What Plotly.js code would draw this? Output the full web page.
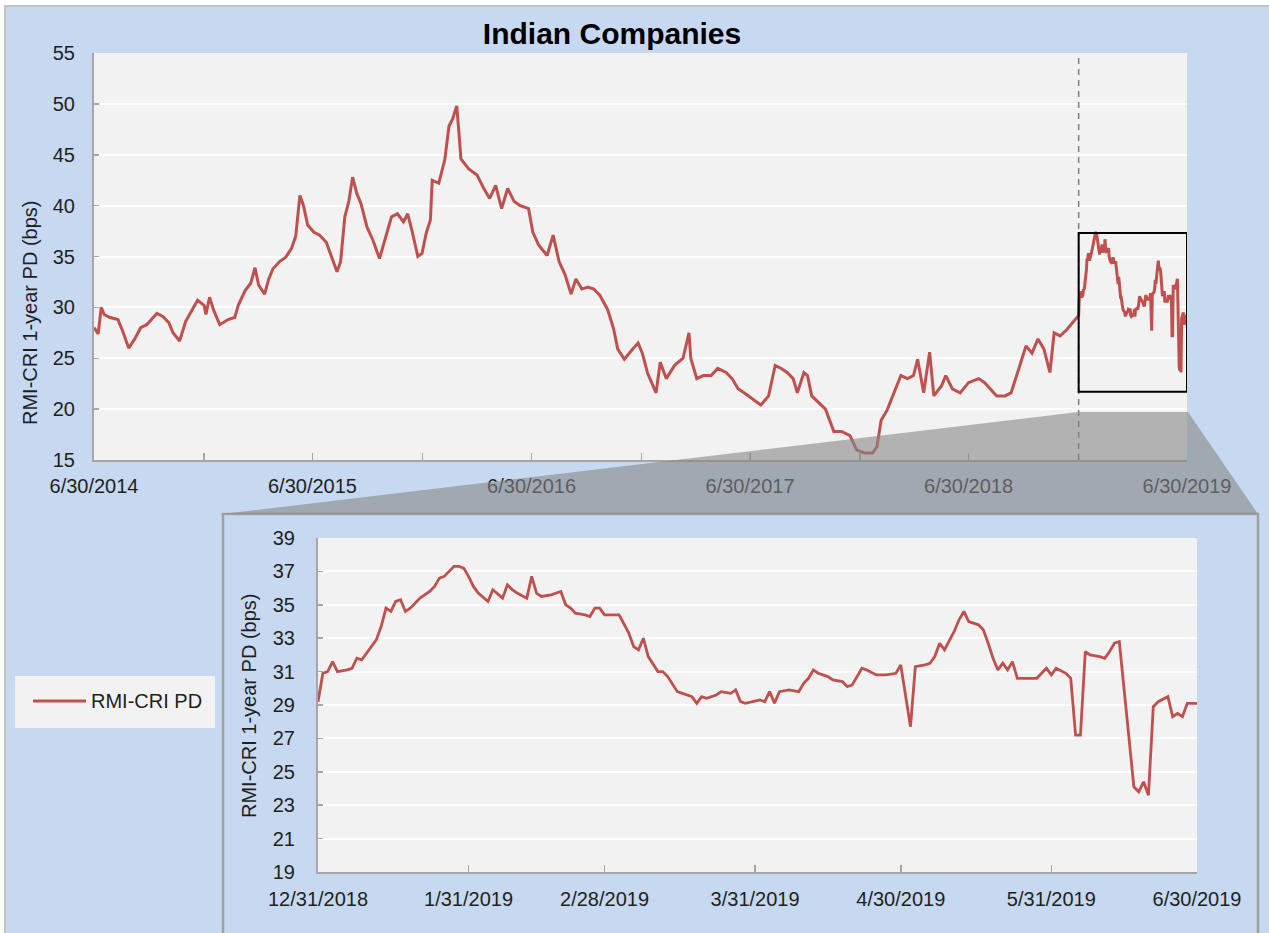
<!DOCTYPE html>
<html><head><meta charset="utf-8">
<script src="https://cdn.plot.ly/plotly-3.0.1.min.js"></script>
<style>html,body{margin:0;padding:0;background:#fff;}#chart{width:1269px;height:933px;}</style>
</head><body><div id="chart"></div>
<script>
// ---------------- DATA ----------------
const chartTitle = 'Indian Companies';
const seriesName = 'RMI-CRI PD';
const yAxisTitle = 'RMI-CRI 1-year PD (bps)';

const dates = [
'2014-06-30','2014-07-07','2014-07-12','2014-07-17','2014-07-27','2014-08-09','2014-08-16','2014-08-27','2014-09-06','2014-09-16',
'2014-09-26','2014-10-13','2014-10-23','2014-11-02','2014-11-09','2014-11-20','2014-11-30','2014-12-10','2014-12-20','2014-12-31',
'2015-01-03','2015-01-09','2015-01-16','2015-01-26','2015-02-09','2015-02-20','2015-02-26','2015-03-09','2015-03-19','2015-03-26',
'2015-04-01','2015-04-11','2015-04-18','2015-04-25','2015-05-06','2015-05-16','2015-05-26','2015-06-02','2015-06-09','2015-06-15',
'2015-06-22','2015-07-02','2015-07-12','2015-07-23','2015-08-03','2015-08-10','2015-08-16','2015-08-23','2015-08-30','2015-09-05',
'2015-09-12','2015-09-19','2015-09-29','2015-10-09','2015-10-20','2015-10-30','2015-11-09','2015-11-19','2015-11-29','2015-12-06',
'2015-12-13','2015-12-23','2015-12-30','2016-01-06','2016-01-13','2016-01-16','2016-01-27','2016-02-06','2016-02-13','2016-02-19',
'2016-02-26','2016-03-01','2016-03-04','2016-03-17','2016-03-31','2016-04-11','2016-04-21','2016-05-01','2016-05-11','2016-05-21',
'2016-06-01','2016-06-11','2016-06-25','2016-07-02','2016-07-12','2016-07-26','2016-08-05','2016-08-15','2016-08-25','2016-09-04',
'2016-09-12','2016-09-22','2016-10-02','2016-10-12','2016-10-22','2016-11-04','2016-11-14','2016-11-21','2016-12-02','2016-12-16',
'2016-12-25','2017-01-01','2017-01-10','2017-01-24','2017-01-31','2017-02-10','2017-02-24','2017-03-10','2017-03-20','2017-03-23',
'2017-04-02','2017-04-13','2017-04-26','2017-05-07','2017-05-21','2017-05-31','2017-06-10','2017-06-20','2017-07-04','2017-07-18',
'2017-07-31','2017-08-11','2017-08-21','2017-08-31','2017-09-10','2017-09-17','2017-09-28','2017-10-04','2017-10-11','2017-10-21',
'2017-11-03','2017-11-17','2017-11-30','2017-12-14','2017-12-25','2018-01-07','2018-01-21','2018-01-28','2018-02-04','2018-02-14',
'2018-02-27','2018-03-09','2018-03-20','2018-03-30','2018-04-06','2018-04-16','2018-04-26','2018-05-03','2018-05-16','2018-05-23',
'2018-06-03','2018-06-16','2018-06-30','2018-07-17','2018-07-27','2018-08-06','2018-08-16','2018-08-30','2018-09-09','2018-09-20',
'2018-10-04','2018-10-14','2018-10-24','2018-11-03','2018-11-13','2018-11-20','2018-11-30','2018-12-11','2018-12-21',
'2018-12-31','2019-01-01','2019-01-02','2019-01-03','2019-01-04','2019-01-06','2019-01-07','2019-01-08','2019-01-09','2019-01-10',
'2019-01-12','2019-01-13','2019-01-14','2019-01-15','2019-01-16','2019-01-17','2019-01-18','2019-01-19','2019-01-20','2019-01-21',
'2019-01-23','2019-01-24','2019-01-25','2019-01-26','2019-01-27','2019-01-28','2019-01-29','2019-01-30','2019-01-31','2019-02-01',
'2019-02-02','2019-02-04','2019-02-05','2019-02-07','2019-02-08','2019-02-09','2019-02-10','2019-02-12','2019-02-13','2019-02-14',
'2019-02-15','2019-02-17','2019-02-19','2019-02-20','2019-02-21','2019-02-22','2019-02-24','2019-02-25','2019-02-26','2019-02-27',
'2019-02-28','2019-03-01','2019-03-03','2019-03-05','2019-03-06','2019-03-07','2019-03-08','2019-03-09','2019-03-11','2019-03-12',
'2019-03-13','2019-03-15','2019-03-17','2019-03-18','2019-03-19','2019-03-20','2019-03-21','2019-03-23','2019-03-24','2019-03-26',
'2019-03-27','2019-03-28','2019-03-29','2019-04-01','2019-04-02','2019-04-03','2019-04-04','2019-04-05','2019-04-07','2019-04-09',
'2019-04-10','2019-04-11','2019-04-12','2019-04-13','2019-04-15','2019-04-16','2019-04-18','2019-04-19','2019-04-20','2019-04-22',
'2019-04-23','2019-04-25','2019-04-27','2019-04-29','2019-04-30','2019-05-02','2019-05-03','2019-05-05','2019-05-06','2019-05-07',
'2019-05-08','2019-05-09','2019-05-11','2019-05-12','2019-05-13','2019-05-14','2019-05-16','2019-05-17','2019-05-18','2019-05-19',
'2019-05-20','2019-05-21','2019-05-22','2019-05-23','2019-05-24','2019-05-26','2019-05-28','2019-05-29','2019-05-30','2019-05-31',
'2019-06-01','2019-06-03','2019-06-04','2019-06-05','2019-06-06','2019-06-07','2019-06-08','2019-06-10','2019-06-11','2019-06-12',
'2019-06-13','2019-06-14','2019-06-17','2019-06-18','2019-06-19','2019-06-20','2019-06-21','2019-06-22','2019-06-24','2019-06-25',
'2019-06-26','2019-06-27','2019-06-28','2019-06-30'
];
const pdValues = [
28.0,27.4,30.0,29.3,29.0,28.8,27.8,26.0,26.9,28.0,
28.3,29.4,29.1,28.5,27.5,26.7,28.6,29.7,30.7,30.2,
29.3,31.0,29.7,28.3,28.8,29.0,30.2,31.6,32.4,33.9,
32.2,31.3,32.8,33.8,34.5,34.9,35.8,37.0,41.0,40.0,
38.1,37.4,37.1,36.4,34.5,33.5,34.5,38.9,40.5,42.8,
41.2,40.2,37.9,36.6,34.8,36.9,38.9,39.2,38.4,39.2,
37.6,35.0,35.3,37.3,38.6,42.5,42.2,44.5,47.8,48.5,
49.8,46.9,44.6,43.6,43.0,41.7,40.7,42.0,39.7,41.7,
40.4,40.0,39.7,37.4,36.1,35.1,37.1,34.5,33.2,31.3,
32.8,31.8,32.0,31.8,31.2,29.8,27.9,25.9,24.9,25.9,
26.5,25.5,23.5,21.6,24.6,23.0,24.3,25.0,27.5,25.0,
23.0,23.3,23.3,24.0,23.6,23.0,22.0,21.6,21.0,20.4,
21.3,24.3,24.0,23.6,23.0,21.6,23.6,23.3,21.3,20.7,
20.0,17.8,17.8,17.4,16.0,15.7,15.7,16.3,18.9,19.9,
21.9,23.3,23.0,23.3,24.9,21.6,25.6,21.3,22.3,23.3,
22.0,21.6,22.6,23.0,22.6,22.0,21.3,21.3,21.6,23.6,
26.2,25.5,26.9,25.9,23.6,27.5,27.2,27.8,28.5,
29.2,30.9,31.0,31.6,31.0,31.1,31.2,31.8,31.7,32.1,
32.9,33.7,34.8,34.6,35.2,35.3,34.6,34.8,35.1,35.4,
35.8,36.1,36.6,36.7,37.0,37.3,37.3,37.2,36.7,36.1,
35.7,35.2,35.9,35.4,36.2,35.9,35.7,35.4,36.7,35.7,
35.5,35.6,35.8,35.0,34.8,34.5,34.4,34.3,34.8,34.8,
34.4,34.4,34.4,33.3,32.5,32.3,33.0,31.9,31.0,31.0,
30.7,29.8,29.6,29.5,29.1,29.5,29.4,29.6,29.8,29.7,
29.9,29.2,29.1,29.3,29.2,29.8,29.1,29.8,29.9,29.8,
30.3,30.6,31.1,30.9,30.7,30.5,30.4,30.1,30.2,31.2,
31.1,30.8,30.8,30.9,31.4,27.7,31.3,31.4,31.5,31.9,
32.7,32.3,33.4,34.1,34.6,34.0,33.8,33.5,32.7,31.8,
31.1,31.5,31.1,31.6,30.6,30.6,30.6,30.9,31.2,30.8,
31.2,30.9,30.6,27.2,27.2,32.2,32.0,31.9,31.8,32.2,
32.7,32.8,24.1,23.8,24.4,23.6,28.9,29.2,29.5,28.3,
28.5,28.3,29.1,29.1
];

const mainTickVals = ['2014-06-30','2014-12-31','2015-06-30','2015-12-31','2016-06-30','2016-12-31',
                      '2017-06-30','2017-12-31','2018-06-30','2018-12-31','2019-06-30'];
const mainTickText = ['6/30/2014','','6/30/2015','','6/30/2016','','6/30/2017','','6/30/2018','','6/30/2019'];
const insetTickVals = ['2018-12-31','2019-01-31','2019-02-28','2019-03-31','2019-04-30','2019-05-31','2019-06-30'];
const insetTickText = ['12/31/2018','1/31/2019','2/28/2019','3/31/2019','4/30/2019','5/31/2019','6/30/2019'];
const mainRange = ['2014-06-30','2019-06-30'];
const zoomStart = '2018-12-31', zoomEnd = '2019-06-30';
const zoomLow = 21.7, zoomHigh = 37.3;

// ---------------- LAYOUT ----------------
const W = 1269, H = 933;
const X = p => p / W, Y = p => 1 - p / H;
const FONT = 'Liberation Sans, Arial, sans-serif';
const RED = '#c0504d';
const AXC = '#a6a6a6';
const TXT = '#1f1f1f';

const insetIdx = dates.map((d,i)=>i).filter(i => dates[i] >= zoomStart);

const traces = [
  {x: dates, y: pdValues, type: 'scatter', mode: 'lines', name: seriesName,
   line: {color: RED, width: 3}, xaxis: 'x', yaxis: 'y', showlegend: false, hoverinfo: 'skip'},
  {x: insetIdx.map(i=>dates[i]), y: insetIdx.map(i=>pdValues[i]), type: 'scatter', mode: 'lines', name: seriesName,
   line: {color: RED, width: 2.8}, xaxis: 'x2', yaxis: 'y2', showlegend: false, hoverinfo: 'skip'}
];

const axisCommon = {
  showline: true, linecolor: AXC, linewidth: 2, zeroline: false,
  ticks: 'inside', tickcolor: AXC, tickwidth: 1.5, automargin: false,
  tickfont: {family: FONT, size: 20, color: TXT}, fixedrange: true
};

const layout = {
  width: W, height: H,
  margin: {l: 0, r: 0, t: 0, b: 0, pad: 0},
  paper_bgcolor: '#c6d9f0', plot_bgcolor: '#f2f2f2',
  showlegend: false,
  title: {text: '<b>' + chartTitle + '</b>', font: {family: FONT, size: 30, color: '#000'},
          x: X(612), xanchor: 'center', y: Y(33), yanchor: 'middle', xref: 'paper', yref: 'paper'},
  xaxis: Object.assign({}, axisCommon, {
    type: 'date', domain: [X(94), X(1187)], range: mainRange, anchor: 'y',
    tickmode: 'array', tickvals: mainTickVals, ticktext: mainTickText, ticklen: 7,
    showgrid: false, ticklabelstandoff: 7
  }),
  yaxis: Object.assign({}, axisCommon, {
    domain: [Y(460), Y(53)], range: [15, 55], dtick: 5, tick0: 15, anchor: 'x',
    ticklen: 5, showgrid: true, gridcolor: '#ffffff', gridwidth: 2, ticklabelstandoff: 13
  }),
  xaxis2: Object.assign({}, axisCommon, {
    type: 'date', domain: [X(318), X(1197)], range: [zoomStart, zoomEnd], anchor: 'y2',
    tickmode: 'array', tickvals: insetTickVals, ticktext: insetTickText, ticklen: 7,
    showgrid: false, ticklabelstandoff: 8
  }),
  yaxis2: Object.assign({}, axisCommon, {
    domain: [Y(872), Y(538)], range: [19, 39], dtick: 2, tick0: 19, anchor: 'x2',
    ticklen: 5, showgrid: true, gridcolor: '#ffffff', gridwidth: 2, ticklabelstandoff: 17
  }),
  shapes: [
    {type: 'rect', xref: 'paper', yref: 'paper', x0: 0, x1: 1, y0: Y(5), y1: 1, fillcolor: '#ffffff', line: {width: 0}, layer: 'below'},
    {type: 'rect', xref: 'paper', yref: 'paper', x0: 0, x1: X(4), y0: 0, y1: 1, fillcolor: '#ffffff', line: {width: 0}, layer: 'below'},
    {type: 'rect', xref: 'paper', yref: 'paper', x0: X(5), x1: X(1290), y0: Y(960), y1: Y(6), fillcolor: 'rgba(0,0,0,0)', line: {color: '#c3c3c3', width: 2}, layer: 'below'},
    {type: 'rect', xref: 'paper', yref: 'paper', x0: X(223), x1: X(1258), y0: Y(960), y1: Y(514), fillcolor: 'rgba(0,0,0,0)', line: {color: '#a0a0a0', width: 2.5}, layer: 'below'},
    {type: 'line', xref: 'x', yref: 'y', x0: zoomStart, x1: zoomStart, y0: 15, y1: 55, line: {color: '#7f7f7f', width: 1.5, dash: '6px,5px'}, layer: 'above'},
    {type: 'rect', xref: 'x', yref: 'y', x0: zoomStart, x1: zoomEnd, y0: zoomLow, y1: zoomHigh, fillcolor: 'rgba(0,0,0,0)', line: {color: '#000000', width: 2}, layer: 'above'},
    {type: 'path', xref: 'paper', yref: 'paper',
     path: `M ${X(1078)},${Y(412)} L ${X(1188)},${Y(412)} L ${X(1258)},${Y(514)} L ${X(223)},${Y(514)} Z`,
     fillcolor: 'rgba(135,135,135,0.6)', line: {width: 0}, layer: 'above'},
    {type: 'rect', xref: 'paper', yref: 'paper', x0: X(15), x1: X(215), y0: Y(728), y1: Y(676), fillcolor: '#f2f2f2', line: {width: 0}, layer: 'below'},
    {type: 'line', xref: 'paper', yref: 'paper', x0: X(33), x1: X(86), y0: Y(701), y1: Y(701), line: {color: RED, width: 3}, layer: 'below'}
  ],
  annotations: [
    {text: yAxisTitle, xref: 'paper', yref: 'paper', x: X(30), y: Y(313), textangle: -90, showarrow: false,
     xanchor: 'center', yanchor: 'middle', font: {family: FONT, size: 20, color: TXT}},
    {text: yAxisTitle, xref: 'paper', yref: 'paper', x: X(249), y: Y(706), textangle: -90, showarrow: false,
     xanchor: 'center', yanchor: 'middle', font: {family: FONT, size: 20, color: TXT}},
    {text: seriesName, xref: 'paper', yref: 'paper', x: X(89), y: Y(701), showarrow: false,
     xanchor: 'left', yanchor: 'middle', font: {family: FONT, size: 20, color: TXT}}
  ]
};

Plotly.newPlot('chart', traces, layout, {staticPlot: true, displayModeBar: false});
</script>
</body></html>
